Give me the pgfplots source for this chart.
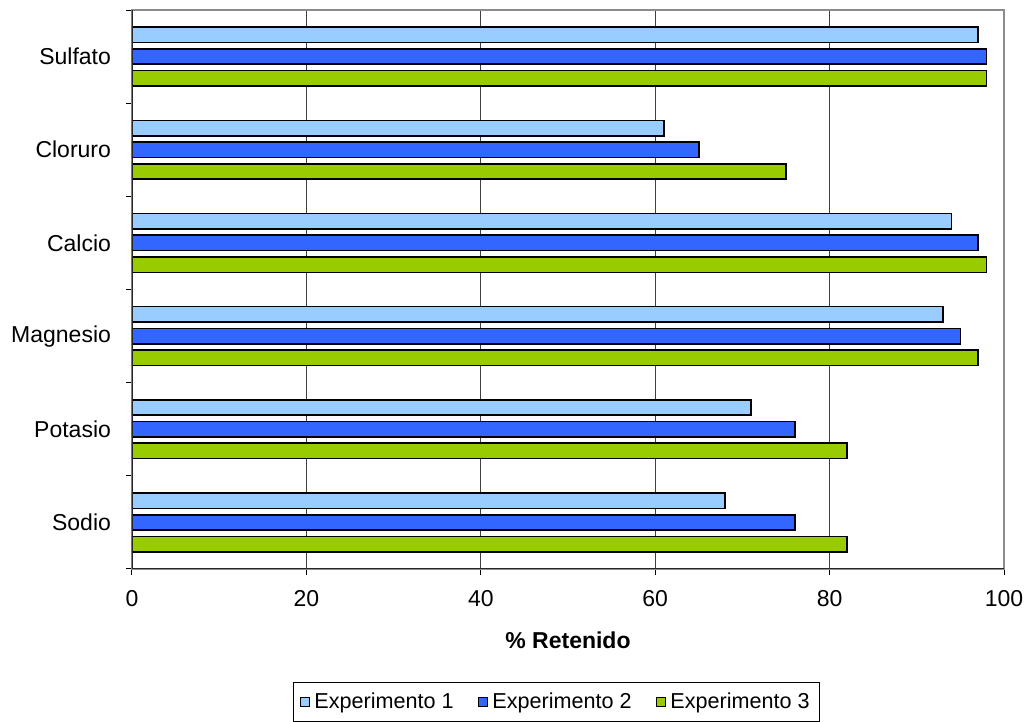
\documentclass[border=0pt]{standalone}
\usepackage{fontspec}
\setmainfont{Liberation Sans}
\usepackage{pgfplots}
\pgfplotsset{compat=1.18}
\definecolor{expA}{HTML}{99CCFF}
\definecolor{expB}{HTML}{3366FF}
\definecolor{expC}{HTML}{99CC00}
\begin{document}
\begin{tikzpicture}[font=\fontsize{11.5}{13.8}\selectfont]
\begin{axis}[%
name=ax, at={(0,0)}, anchor=south west,
scale only axis, width=436pt, height=279.5pt,
xbar, bar width=0.165,
xmin=0, xmax=100, ymin=-0.5, ymax=5.5,
xtick={0,20,...,100},
xmajorgrids, major grid style={black!75, line width=0.5pt},
ytick={0,...,5},
yticklabels={Sodio,Potasio,Magnesio,Calcio,Cloruro,Sulfato},
minor ytick={-0.5,0.5,...,5.5},
major y tick style={draw=none},
minor y tick style={black, line width=0.5pt},
major x tick style={black, line width=0.5pt},
tick align=outside, major tick length=3pt, minor tick length=3pt,
xtick pos=bottom, ytick pos=left,
xticklabel style={yshift=-4pt},
yticklabel style={xshift=-4pt},
axis line style={draw=black!45, line width=0.6pt},
/pgf/number format/assume math mode=true,
xlabel={\textbf{\% Retenido}},
xlabel style={at={(axis description cs:0.5,0)}, anchor=center, yshift=-35.5pt},
legend style={at={(0.487,-0.238)}, anchor=center, legend columns=3,
  draw=black, line width=0.5pt, inner ysep=3pt,
  font=\fontsize{10.8}{13}\selectfont,
  /tikz/every even column/.append style={column sep=10pt}},
legend image code/.code={\draw[#1, line width=0.6pt] (0pt,-2.4pt) rectangle (4.8pt,2.4pt);},
]
\addplot[fill=expA, draw=black, line width=0.8pt, bar shift=0.233] coordinates {
(68,0) (71,1) (93,2) (94,3) (61,4) (97,5)
};
\addplot[fill=expB, draw=black, line width=0.8pt, bar shift=0] coordinates {
(76,0) (76,1) (95,2) (97,3) (65,4) (98,5)
};
\addplot[fill=expC, draw=black, line width=0.8pt, bar shift=-0.233] coordinates {
(82,0) (82,1) (97,2) (98,3) (75,4) (98,5)
};
\addlegendentry{Experimento 1}
\addlegendentry{Experimento 2}
\addlegendentry{Experimento 3}
\draw[black!85, line width=0.8pt] (rel axis cs:0,1) -- (rel axis cs:0,0) -- (rel axis cs:1,0);
\end{axis}
\pgfresetboundingbox
\useasboundingbox (-66pt,-76.5pt) rectangle (448.5pt,284.5pt);
\end{tikzpicture}
\end{document}
